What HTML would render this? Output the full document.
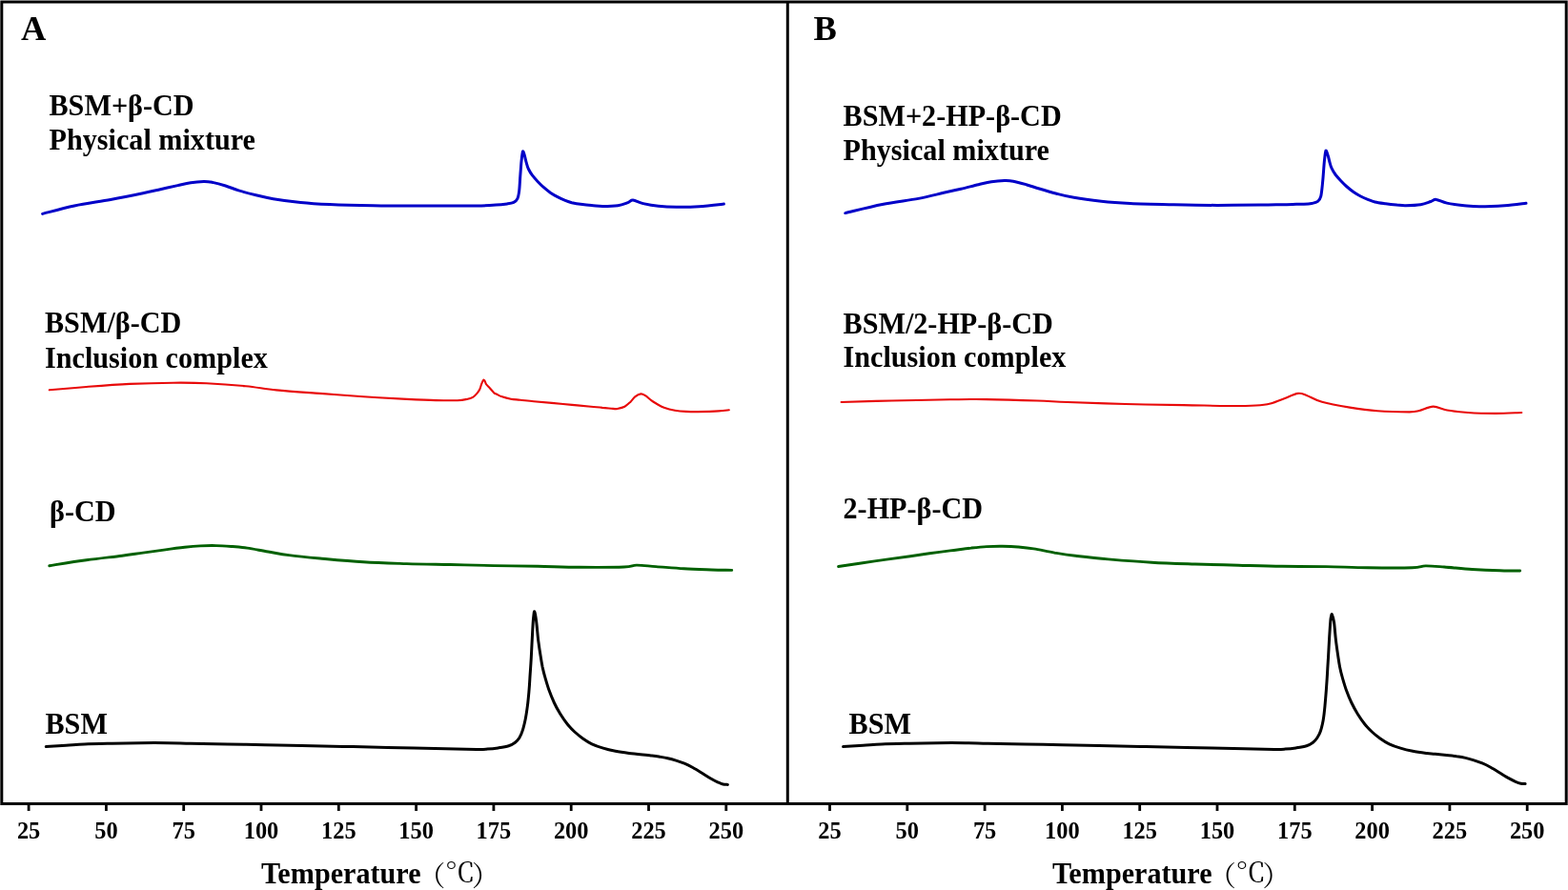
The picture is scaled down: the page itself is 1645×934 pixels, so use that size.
<!DOCTYPE html>
<html><head><meta charset="utf-8"><title>DSC thermograms</title>
<style>
html,body{margin:0;padding:0;background:#fff;}
body{width:1645px;height:934px;overflow:hidden;}
svg{display:block;}
.t{font-family:"Liberation Serif","Noto Serif CJK SC",serif;font-weight:bold;fill:#000;}
</style></head><body>
<svg width="1645" height="934" viewBox="0 0 1645 934">
<rect x="0" y="0" width="1645" height="934" fill="#fff"/>
<g fill="none" stroke="#000" stroke-width="3" stroke-linecap="butt">
<path d="M1.8 2.0 H1643.2 V843.4 H1.8 Z" stroke-linejoin="miter"/>
<line x1="826.3" y1="2.0" x2="826.3" y2="843.5"/>
</g>
<g stroke="#000" stroke-width="2.8"><line x1="30.1" y1="844" x2="30.1" y2="851"/><line x1="111.4" y1="844" x2="111.4" y2="851"/><line x1="192.7" y1="844" x2="192.7" y2="851"/><line x1="274.0" y1="844" x2="274.0" y2="851"/><line x1="355.3" y1="844" x2="355.3" y2="851"/><line x1="436.6" y1="844" x2="436.6" y2="851"/><line x1="517.9" y1="844" x2="517.9" y2="851"/><line x1="599.2" y1="844" x2="599.2" y2="851"/><line x1="680.5" y1="844" x2="680.5" y2="851"/><line x1="761.8" y1="844" x2="761.8" y2="851"/><line x1="870.5" y1="844" x2="870.5" y2="851"/><line x1="951.8" y1="844" x2="951.8" y2="851"/><line x1="1033.1" y1="844" x2="1033.1" y2="851"/><line x1="1114.4" y1="844" x2="1114.4" y2="851"/><line x1="1195.7" y1="844" x2="1195.7" y2="851"/><line x1="1277.0" y1="844" x2="1277.0" y2="851"/><line x1="1358.3" y1="844" x2="1358.3" y2="851"/><line x1="1439.6" y1="844" x2="1439.6" y2="851"/><line x1="1520.9" y1="844" x2="1520.9" y2="851"/><line x1="1602.2" y1="844" x2="1602.2" y2="851"/></g>
<g fill="none" stroke-linecap="round" stroke-linejoin="round">
<path d="M44.6 224.4 C50.2 223.0 66.1 218.5 78.0 216.0 C89.9 213.5 104.0 211.7 116.0 209.5 C128.0 207.3 141.3 204.6 150.0 202.8 C158.7 201.0 162.1 200.1 168.2 198.7 C174.3 197.3 181.2 195.8 186.5 194.6 C191.8 193.4 195.5 192.4 200.1 191.7 C204.7 191.0 210.0 190.6 213.8 190.5 C217.6 190.4 219.1 190.7 222.9 191.4 C226.7 192.2 232.0 193.6 236.6 195.0 C241.2 196.4 245.0 198.3 250.3 199.9 C255.6 201.5 262.4 203.3 268.5 204.8 C274.6 206.3 278.9 207.4 286.7 208.7 C294.5 210.0 305.5 211.5 315.4 212.5 C325.2 213.5 333.1 214.0 345.8 214.6 C358.5 215.2 376.2 215.6 391.4 215.8 C406.6 216.1 421.8 216.1 437.0 216.1 C452.2 216.1 471.3 216.1 482.6 216.1 C493.9 216.1 498.7 216.1 505.0 215.9 C511.3 215.7 515.9 215.4 520.4 215.1 C524.9 214.8 528.9 214.3 532.0 213.9 C535.1 213.5 537.1 213.3 538.9 212.4 C540.7 211.5 541.8 210.7 542.8 208.6 C543.8 206.5 544.2 204.1 544.7 200.1 C545.2 196.1 545.4 189.8 545.8 184.7 C546.2 179.6 546.6 173.3 547.0 169.3 C547.4 165.3 547.8 162.2 548.1 160.5 C548.4 158.8 548.5 158.4 548.9 159.1 C549.3 159.8 550.2 162.8 550.7 164.7 C551.2 166.6 551.6 168.6 552.2 170.7 C552.8 172.8 553.4 175.2 554.5 177.5 C555.6 179.8 557.0 182.1 558.6 184.2 C560.2 186.3 562.0 188.2 563.9 190.2 C565.8 192.2 567.6 194.2 569.9 196.2 C572.1 198.2 574.9 200.4 577.4 202.2 C579.9 203.9 582.4 205.4 584.9 206.7 C587.4 208.0 589.9 209.1 592.4 210.1 C594.9 211.1 596.8 211.9 599.9 212.7 C603.0 213.4 607.4 214.1 611.1 214.6 C614.8 215.1 618.8 215.4 622.3 215.7 C625.8 216.0 627.8 216.4 632.1 216.4 C636.4 216.4 643.8 216.3 648.2 215.7 C652.7 215.1 656.1 213.5 658.8 212.6 C661.4 211.7 661.4 209.9 664.1 210.1 C666.8 210.3 670.4 212.6 674.8 213.6 C679.2 214.6 684.9 215.7 690.7 216.3 C696.6 216.9 702.8 217.2 709.9 217.3 C717.0 217.4 725.0 217.3 733.3 216.8 C741.5 216.3 755.0 214.6 759.4 214.1" stroke="#0000c8" stroke-width="3.00"/>
<path d="M51.8 409.3 C58.3 408.8 76.5 407.1 90.6 406.0 C104.7 404.9 121.0 403.6 136.2 402.9 C151.4 402.2 168.4 401.8 181.8 401.7 C195.2 401.6 204.0 401.6 216.7 402.2 C229.4 402.8 245.6 404.0 257.8 405.2 C270.0 406.4 277.0 408.1 290.0 409.4 C303.0 410.7 320.4 411.8 335.6 412.9 C350.8 414.0 366.0 415.3 381.2 416.3 C396.4 417.3 414.1 418.3 426.8 418.9 C439.5 419.5 448.3 419.9 457.2 420.1 C466.1 420.3 474.6 420.4 480.0 420.2 C485.4 420.0 487.0 419.5 489.7 418.9 C492.4 418.3 494.3 417.8 496.1 416.8 C497.9 415.8 499.2 414.3 500.4 412.9 C501.6 411.5 502.5 410.2 503.3 408.5 C504.1 406.8 504.6 404.3 505.3 402.6 C506.0 400.9 506.9 398.7 507.5 398.5 C508.1 398.3 508.8 400.4 509.2 401.2 C509.6 402.0 509.4 402.3 510.2 403.4 C511.0 404.4 512.6 406.0 514.0 407.5 C515.4 409.0 517.2 411.3 518.4 412.4 C519.6 413.4 519.9 413.1 521.3 413.8 C522.7 414.5 524.3 415.5 526.7 416.3 C529.1 417.1 532.7 418.1 535.9 418.7 C539.1 419.3 541.7 419.3 545.7 419.7 C549.7 420.1 554.5 420.7 560.0 421.2 C565.5 421.7 572.1 422.3 578.8 422.9 C585.5 423.5 593.1 424.2 600.0 424.9 C606.9 425.5 614.7 426.3 620.0 426.8 C625.3 427.3 628.1 427.5 632.0 427.9 C635.9 428.2 640.5 428.7 643.1 428.9 C645.7 429.1 645.4 429.4 647.4 429.0 C649.4 428.6 653.0 427.9 655.3 426.7 C657.6 425.5 659.5 423.6 661.3 421.9 C663.1 420.2 664.4 417.8 666.2 416.4 C668.0 415.0 670.5 413.6 672.3 413.4 C674.1 413.2 675.3 414.1 677.1 415.2 C678.9 416.3 681.2 418.6 683.2 420.1 C685.2 421.6 687.1 422.7 689.3 424.0 C691.5 425.3 693.5 426.6 696.6 427.7 C699.7 428.8 704.2 430.0 708.1 430.7 C712.0 431.4 716.0 431.7 720.0 431.9 C724.0 432.1 726.4 432.2 732.0 432.1 C737.6 432.0 748.3 431.7 753.8 431.4 C759.3 431.1 763.0 430.4 764.8 430.2" stroke="#e80a0a" stroke-width="2.10"/>
<path d="M51.8 593.7 C58.3 592.7 77.9 589.5 90.6 587.8 C103.3 586.0 118.1 584.5 128.0 583.2 C137.9 581.9 142.7 581.1 150.0 580.1 C157.3 579.1 164.6 578.1 171.9 577.1 C179.2 576.1 187.4 575.0 193.8 574.3 C200.2 573.6 204.7 573.2 210.2 572.9 C215.7 572.6 221.1 572.5 226.6 572.6 C232.1 572.7 237.5 573.1 243.0 573.5 C248.5 573.9 253.0 574.2 259.4 575.1 C265.8 576.0 274.0 577.8 281.3 579.0 C288.6 580.2 294.1 581.4 303.2 582.6 C312.2 583.8 322.6 584.8 335.6 586.0 C348.6 587.2 366.0 588.9 381.2 589.8 C396.4 590.7 411.6 591.1 426.8 591.6 C442.0 592.1 457.2 592.2 472.4 592.5 C487.6 592.8 502.7 593.3 518.0 593.6 C533.3 593.9 549.2 594.0 564.2 594.3 C579.2 594.6 592.9 595.2 608.0 595.3 C623.1 595.4 644.6 595.4 654.6 595.0 C664.6 594.6 662.2 593.2 667.8 593.1 C673.4 593.0 679.9 594.0 688.2 594.6 C696.5 595.2 707.7 596.2 717.4 596.8 C727.1 597.4 738.2 597.7 746.6 598.0 C755.0 598.3 764.2 598.3 767.7 598.4" stroke="#006000" stroke-width="2.90"/>
<path d="M48.3 783.6 C51.8 783.4 62.5 782.7 69.2 782.2 C75.9 781.8 80.5 781.2 88.6 780.9 C96.7 780.6 108.1 780.4 117.8 780.2 C127.5 780.0 137.3 779.8 147.0 779.7 C156.7 779.6 167.4 779.6 176.2 779.7 C185.0 779.8 189.6 780.0 200.0 780.2 C210.4 780.4 225.9 780.6 238.9 780.9 C251.9 781.1 264.8 781.4 277.8 781.7 C290.8 782.0 303.0 782.2 316.7 782.5 C330.4 782.8 345.0 783.1 360.0 783.4 C375.0 783.7 388.7 784.0 406.6 784.4 C424.5 784.8 451.8 785.4 467.4 785.7 C483.0 786.0 492.7 786.3 500.0 786.4 C507.3 786.5 507.4 786.4 511.2 786.1 C515.0 785.9 518.8 785.5 522.5 784.9 C526.2 784.3 530.7 783.6 533.7 782.7 C536.7 781.8 538.5 780.7 540.4 779.3 C542.3 777.9 543.6 776.4 544.9 774.3 C546.2 772.1 547.3 769.6 548.3 766.4 C549.3 763.2 550.2 759.5 551.1 755.2 C552.0 750.9 552.7 745.9 553.4 740.6 C554.1 735.4 554.6 729.3 555.1 723.7 C555.6 718.1 555.8 712.5 556.2 706.9 C556.6 701.3 556.9 697.4 557.3 690.0 C557.7 682.6 558.3 669.2 558.7 662.3 C559.1 655.4 559.2 652.1 559.6 648.7 C560.0 645.3 560.3 641.0 560.8 641.8 C561.3 642.5 562.2 648.3 562.8 653.2 C563.4 658.1 563.9 665.3 564.6 671.4 C565.4 677.5 566.5 684.8 567.3 689.6 C568.0 694.4 568.4 696.5 569.1 700.0 C569.9 703.5 570.6 706.6 571.8 710.7 C573.0 714.8 574.5 720.1 576.1 724.6 C577.7 729.1 579.5 733.4 581.4 737.5 C583.3 741.6 585.5 745.5 587.8 749.3 C590.1 753.0 592.8 756.9 595.3 760.0 C597.8 763.1 600.1 765.5 602.8 768.0 C605.5 770.5 608.4 772.8 611.4 774.9 C614.4 777.0 617.4 779.1 621.0 780.8 C624.6 782.5 628.7 783.9 632.8 785.1 C636.9 786.4 641.2 787.4 645.7 788.3 C650.2 789.2 653.8 789.7 660.0 790.5 C666.2 791.3 677.8 792.3 683.0 792.9 C688.2 793.5 688.3 793.5 691.2 794.0 C694.1 794.5 697.5 795.0 700.5 795.7 C703.5 796.4 706.4 797.2 709.3 798.1 C712.2 799.0 715.1 799.9 718.0 801.1 C720.9 802.3 723.9 803.9 726.8 805.5 C729.7 807.1 732.6 808.9 735.5 810.7 C738.4 812.5 741.4 814.5 744.3 816.2 C747.2 817.9 750.6 819.7 753.0 820.8 C755.4 821.9 756.8 822.6 758.5 823.0 C760.2 823.4 762.6 823.3 763.4 823.4" stroke="#000" stroke-width="3.00"/>
<path d="M886.8 223.6 C893.3 222.1 912.8 217.0 925.6 214.5 C938.4 212.0 952.9 210.4 963.6 208.4 C974.3 206.4 982.6 204.0 990.0 202.3 C997.4 200.6 1002.1 199.6 1008.2 198.2 C1014.3 196.8 1021.2 194.9 1026.5 193.7 C1031.8 192.5 1035.5 191.5 1040.1 190.8 C1044.6 190.1 1050.0 189.7 1053.8 189.6 C1057.6 189.5 1059.1 189.5 1062.9 190.2 C1066.7 190.9 1072.0 192.4 1076.6 193.7 C1081.2 195.0 1085.0 196.4 1090.3 198.0 C1095.6 199.6 1102.4 201.6 1108.5 203.2 C1114.6 204.8 1118.9 206.0 1126.7 207.3 C1134.5 208.7 1145.6 210.2 1155.4 211.3 C1165.2 212.4 1173.1 213.0 1185.8 213.6 C1198.5 214.2 1216.2 214.5 1231.4 214.8 C1246.6 215.1 1261.8 215.4 1277.0 215.4 C1292.2 215.4 1311.3 215.2 1322.6 215.1 C1333.9 215.0 1338.8 214.8 1345.0 214.7 C1351.2 214.6 1356.2 214.4 1360.0 214.3 C1363.8 214.2 1365.3 214.4 1368.0 214.3 C1370.7 214.2 1373.7 214.0 1376.1 213.5 C1378.5 213.0 1380.9 212.6 1382.5 211.4 C1384.1 210.2 1384.8 209.7 1385.7 206.2 C1386.6 202.7 1387.1 196.2 1387.7 190.2 C1388.3 184.2 1388.8 175.2 1389.3 170.1 C1389.8 165.0 1390.2 161.5 1390.6 159.6 C1391.0 157.7 1391.0 157.7 1391.5 158.4 C1392.0 159.1 1392.8 162.1 1393.4 164.0 C1394.0 165.9 1394.3 167.9 1394.9 170.0 C1395.5 172.1 1396.0 174.4 1397.1 176.7 C1398.1 178.9 1399.6 181.4 1401.2 183.5 C1402.8 185.6 1404.6 187.5 1406.5 189.5 C1408.4 191.5 1410.2 193.5 1412.5 195.5 C1414.8 197.5 1417.5 199.8 1420.0 201.5 C1422.5 203.2 1425.0 204.7 1427.5 206.0 C1430.0 207.3 1432.5 208.3 1435.0 209.3 C1437.5 210.3 1439.4 211.2 1442.5 212.0 C1445.6 212.8 1450.0 213.3 1453.7 213.8 C1457.5 214.3 1461.5 214.7 1465.0 215.0 C1468.5 215.3 1470.5 215.8 1474.7 215.7 C1478.9 215.6 1485.9 215.4 1490.3 214.7 C1494.7 214.0 1498.2 212.4 1501.0 211.5 C1503.8 210.6 1504.0 209.1 1506.8 209.4 C1509.6 209.7 1513.1 212.1 1518.0 213.1 C1522.9 214.1 1530.4 215.1 1536.1 215.7 C1541.8 216.3 1544.9 216.8 1552.0 216.8 C1559.1 216.8 1570.4 216.3 1578.6 215.7 C1586.8 215.1 1597.3 213.7 1601.0 213.3" stroke="#0000c8" stroke-width="3.00"/>
<path d="M882.6 422.0 C891.5 421.8 916.8 420.9 935.8 420.5 C954.8 420.1 980.1 419.5 996.6 419.3 C1013.1 419.1 1019.4 418.9 1034.6 419.1 C1049.8 419.3 1073.6 420.0 1087.8 420.5 C1102.0 421.0 1104.5 421.4 1120.0 422.0 C1135.5 422.6 1160.5 423.5 1180.8 424.0 C1201.1 424.5 1223.9 424.8 1241.6 425.1 C1259.3 425.4 1274.5 425.9 1287.2 426.0 C1299.9 426.1 1310.0 425.9 1317.6 425.5 C1325.2 425.1 1327.7 424.8 1332.8 423.5 C1337.9 422.2 1343.2 419.7 1348.0 417.9 C1352.8 416.1 1357.8 413.4 1361.6 412.9 C1365.4 412.4 1366.6 413.4 1370.8 414.9 C1375.0 416.4 1379.4 419.7 1386.9 421.8 C1394.5 423.9 1406.4 426.0 1416.1 427.6 C1425.8 429.2 1434.8 430.5 1445.2 431.3 C1455.7 432.1 1471.5 432.4 1478.8 432.4 C1486.1 432.3 1484.9 432.0 1489.0 431.0 C1493.1 430.0 1498.7 426.7 1503.6 426.6 C1508.5 426.5 1512.1 429.4 1518.2 430.5 C1524.3 431.6 1531.6 432.4 1540.1 433.0 C1548.6 433.6 1559.9 433.9 1569.3 433.9 C1578.7 433.9 1591.8 433.1 1596.3 433.0" stroke="#e80a0a" stroke-width="2.10"/>
<path d="M879.6 594.5 C885.9 593.6 905.0 590.7 917.6 588.9 C930.2 587.1 945.4 585.1 955.0 583.8 C964.6 582.4 968.0 581.8 975.0 580.8 C982.0 579.8 989.6 578.8 996.9 577.9 C1004.2 577.0 1012.4 575.8 1018.8 575.1 C1025.2 574.4 1029.7 573.9 1035.2 573.6 C1040.7 573.3 1046.1 573.1 1051.6 573.2 C1057.1 573.3 1062.5 573.5 1068.0 574.0 C1073.5 574.5 1078.0 574.9 1084.4 575.9 C1090.8 576.9 1099.0 578.9 1106.3 580.1 C1113.6 581.3 1118.8 582.2 1128.2 583.3 C1137.6 584.4 1149.3 585.8 1162.6 586.9 C1175.9 588.0 1193.0 589.4 1208.2 590.2 C1223.4 591.1 1238.6 591.5 1253.8 592.0 C1269.0 592.5 1284.2 592.8 1299.4 593.2 C1314.6 593.6 1329.7 594.1 1345.0 594.3 C1360.3 594.5 1376.2 594.4 1391.2 594.6 C1406.2 594.9 1419.9 595.6 1435.0 595.8 C1450.1 596.0 1471.5 596.1 1481.6 595.8 C1491.7 595.5 1489.9 594.0 1495.5 593.9 C1501.1 593.8 1507.0 594.4 1515.2 595.0 C1523.4 595.6 1534.7 596.9 1544.4 597.5 C1554.1 598.1 1565.2 598.5 1573.6 598.7 C1582.0 599.0 1591.2 599.0 1594.7 599.0" stroke="#006000" stroke-width="2.90"/>
<path d="M884.6 783.6 C888.1 783.4 898.8 782.7 905.5 782.2 C912.2 781.8 916.8 781.2 924.9 780.9 C933.0 780.6 944.4 780.4 954.1 780.2 C963.8 780.0 973.6 779.8 983.3 779.7 C993.0 779.6 1003.7 779.6 1012.5 779.7 C1021.3 779.8 1025.8 780.0 1036.3 780.2 C1046.8 780.4 1062.2 780.6 1075.2 780.9 C1088.2 781.1 1101.1 781.4 1114.1 781.7 C1127.1 782.0 1139.3 782.2 1153.0 782.5 C1166.7 782.8 1181.0 783.1 1196.3 783.4 C1211.6 783.7 1226.4 784.0 1244.6 784.4 C1262.8 784.8 1290.0 785.4 1305.4 785.7 C1320.8 786.0 1329.9 786.3 1337.0 786.4 C1344.1 786.5 1344.5 786.4 1348.2 786.1 C1352.0 785.9 1355.8 785.5 1359.5 784.9 C1363.2 784.3 1367.7 783.6 1370.7 782.7 C1373.7 781.8 1375.5 780.7 1377.4 779.3 C1379.3 777.9 1380.6 776.3 1381.9 774.3 C1383.2 772.3 1384.3 770.5 1385.3 767.5 C1386.3 764.5 1387.3 760.8 1388.1 756.3 C1388.9 751.8 1389.5 746.0 1390.0 740.6 C1390.5 735.2 1391.0 729.3 1391.4 723.7 C1391.8 718.1 1392.2 712.5 1392.5 706.9 C1392.8 701.3 1393.1 696.5 1393.5 690.0 C1393.9 683.5 1394.3 674.3 1394.7 668.0 C1395.1 661.7 1395.5 655.6 1395.8 652.0 C1396.1 648.4 1396.3 647.7 1396.6 646.5 C1396.9 645.3 1397.0 643.9 1397.5 645.0 C1398.0 646.1 1398.9 648.8 1399.6 653.2 C1400.2 657.6 1400.7 665.3 1401.4 671.4 C1402.1 677.5 1403.2 684.8 1403.9 689.6 C1404.6 694.4 1404.9 696.5 1405.6 700.0 C1406.3 703.5 1407.0 706.6 1408.2 710.7 C1409.4 714.8 1410.9 720.1 1412.5 724.6 C1414.1 729.1 1415.9 733.4 1417.9 737.5 C1419.9 741.6 1422.0 745.5 1424.3 749.3 C1426.6 753.0 1429.3 756.9 1431.8 760.0 C1434.3 763.1 1436.6 765.5 1439.3 768.0 C1442.0 770.5 1444.9 772.8 1447.9 774.9 C1450.9 777.0 1453.9 779.1 1457.5 780.8 C1461.1 782.5 1465.2 783.9 1469.3 785.1 C1473.4 786.4 1477.5 787.4 1482.1 788.3 C1486.7 789.2 1493.1 790.0 1497.0 790.5 C1500.9 791.0 1501.9 790.8 1505.7 791.2 C1509.5 791.6 1516.2 792.3 1520.0 792.7 C1523.8 793.1 1525.3 793.3 1528.2 793.8 C1531.1 794.2 1534.5 794.7 1537.5 795.4 C1540.5 796.1 1543.4 797.0 1546.3 797.9 C1549.2 798.8 1552.1 799.7 1555.0 800.9 C1557.9 802.1 1560.9 803.6 1563.8 805.2 C1566.7 806.8 1569.6 808.6 1572.5 810.4 C1575.4 812.2 1578.4 814.2 1581.3 815.9 C1584.2 817.5 1587.6 819.2 1590.0 820.3 C1592.4 821.3 1593.8 821.8 1595.5 822.2 C1597.2 822.6 1599.3 822.5 1600.1 822.6" stroke="#000" stroke-width="3.00"/>
</g>
<g class="t" font-size="24.4" text-anchor="middle"><text x="30.1" y="880.2">25</text><text x="111.4" y="880.2">50</text><text x="192.7" y="880.2">75</text><text x="274.0" y="880.2">100</text><text x="355.3" y="880.2">125</text><text x="436.6" y="880.2">150</text><text x="517.9" y="880.2">175</text><text x="599.2" y="880.2">200</text><text x="680.5" y="880.2">225</text><text x="761.8" y="880.2">250</text><text x="870.5" y="880.2">25</text><text x="951.8" y="880.2">50</text><text x="1033.1" y="880.2">75</text><text x="1114.4" y="880.2">100</text><text x="1195.7" y="880.2">125</text><text x="1277.0" y="880.2">150</text><text x="1358.3" y="880.2">175</text><text x="1439.6" y="880.2">200</text><text x="1520.9" y="880.2">225</text><text x="1602.2" y="880.2">250</text></g>
<g class="t" font-size="36.5">
<text x="22" y="41.7">A</text>
<text x="853.5" y="41.9">B</text>
</g>
<g class="t" font-size="31">
<text transform="translate(51.5 121.4) scale(0.974 1)">BSM+β-CD</text>
<text transform="translate(51.5 157.4) scale(0.974 1)">Physical mixture</text>
<text transform="translate(47.0 348.9) scale(0.974 1)">BSM/β-CD</text>
<text transform="translate(47.0 385.7) scale(0.974 1)">Inclusion complex</text>
<text transform="translate(52.0 547.2) scale(0.974 1)">β-CD</text>
<text transform="translate(47.5 769.5) scale(0.974 1)">BSM</text>
<text transform="translate(884.5 131.6) scale(0.974 1)">BSM+2-HP-β-CD</text>
<text transform="translate(884.5 168.0) scale(0.974 1)">Physical mixture</text>
<text transform="translate(884.5 349.6) scale(0.974 1)">BSM/2-HP-β-CD</text>
<text transform="translate(884.5 385.3) scale(0.974 1)">Inclusion complex</text>
<text transform="translate(884.5 544.0) scale(0.974 1)">2-HP-β-CD</text>
<text transform="translate(890.5 769.5) scale(0.974 1)">BSM</text>
<text transform="translate(274.0 927.1) scale(0.974 1)">Temperature</text>
<text transform="translate(1104.0 927.1) scale(0.974 1)">Temperature</text>
</g>
<g font-family="Noto Serif CJK SC, serif" font-size="29" fill="#000">
<text x="438.2" y="930.4">（</text><text transform="translate(466.8 924.8) scale(1.10 0.955)">℃</text><text x="495.0" y="930.4">）</text><text x="1267.7" y="930.4">（</text><text transform="translate(1296.3 924.8) scale(1.10 0.955)">℃</text><text x="1324.5" y="930.4">）</text>
</g>
</svg>
</body></html>
